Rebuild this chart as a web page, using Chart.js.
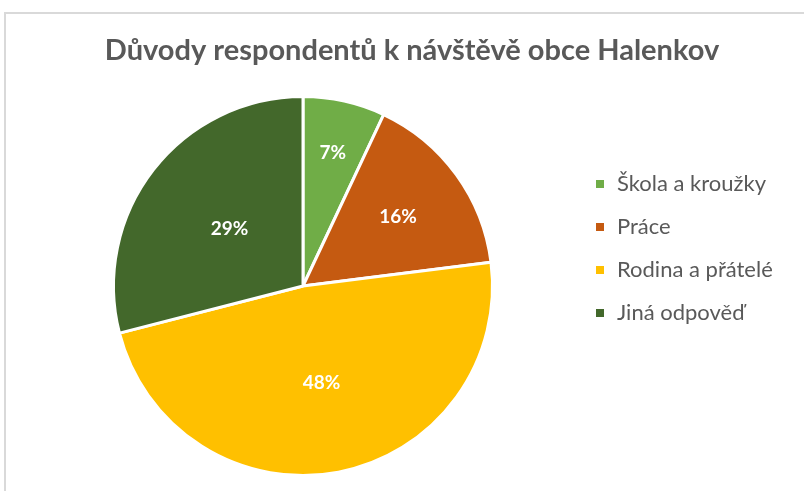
<!DOCTYPE html>
<html>
<head>
<meta charset="utf-8">
<script src="https://cdn.jsdelivr.net/npm/chart.js@4/dist/chart.umd.min.js"></script>
<style>
html,body{margin:0;padding:0;background:#fff;}
#wrap{position:relative;width:804px;height:491px;}
</style>
</head>
<body>
<div id="wrap"><canvas id="c" width="804" height="491"></canvas></div>
<script>
const chartTitle = 'Důvody respondentů k návštěvě obce Halenkov';
const categories = ['Škola a kroužky', 'Práce', 'Rodina a přátelé', 'Jiná odpověď'];
const shares = [7, 16, 48, 29];
const colors = ['#70AD47', '#C55A11', '#FFC000', '#43682B'];
const labelRadius = [0.72, 0.62, 0.52, 0.49];

const FONT = 'Lato, "Open Sans", sans-serif';
const TEXT = '#595959';

const decor = {
  id: 'decor',
  beforeDraw(chart) {
    const ctx = chart.ctx;
    ctx.save();
    ctx.fillStyle = '#fff';
    ctx.fillRect(0, 0, chart.width, chart.height);
    ctx.strokeStyle = '#D9D9D9';
    ctx.lineWidth = 2;
    ctx.beginPath();
    ctx.moveTo(5, chart.height);
    ctx.lineTo(5, 13);
    ctx.lineTo(chart.width, 13);
    ctx.stroke();
    ctx.restore();
  },
  afterDraw(chart) {
    const ctx = chart.ctx;
    ctx.save();
    // title
    ctx.fillStyle = TEXT;
    ctx.font = 'bold 29px ' + FONT;
    ctx.textAlign = 'center';
    ctx.textBaseline = 'middle';
    ctx.fillText(chartTitle, 412, 51);
    // data labels
    const meta = chart.getDatasetMeta(0);
    const total = shares.reduce((a, b) => a + b, 0);
    ctx.font = 'bold 19px ' + FONT;
    ctx.fillStyle = '#fff';
    meta.data.forEach((arc, i) => {
      const p = arc.getProps(['x', 'y', 'startAngle', 'endAngle', 'outerRadius'], true);
      const mid = (p.startAngle + p.endAngle) / 2;
      const r = p.outerRadius * labelRadius[i];
      const pct = Math.round(shares[i] / total * 100) + '%';
      ctx.fillText(pct, p.x + Math.cos(mid) * r, p.y + Math.sin(mid) * r);
    });
    // legend
    ctx.textAlign = 'left';
    ctx.font = '22px ' + FONT;
    categories.forEach((c, i) => {
      const y = 184 + i * 43;
      ctx.fillStyle = colors[i];
      ctx.fillRect(596, y - 4, 8, 8);
      ctx.fillStyle = TEXT;
      ctx.fillText(c, 617, y);
    });
    ctx.restore();
  }
};

new Chart(document.getElementById('c'), {
  type: 'pie',
  data: {
    labels: categories,
    datasets: [{
      data: shares,
      backgroundColor: colors,
      borderColor: '#fff',
      borderWidth: 3
    }]
  },
  options: {
    responsive: false,
    animation: false,
    layout: { padding: { left: 112, right: 310, top: 95, bottom: 14 } },
    plugins: { legend: { display: false }, tooltip: { enabled: false }, title: { display: false } }
  },
  plugins: [decor]
});
</script>
</body>
</html>
